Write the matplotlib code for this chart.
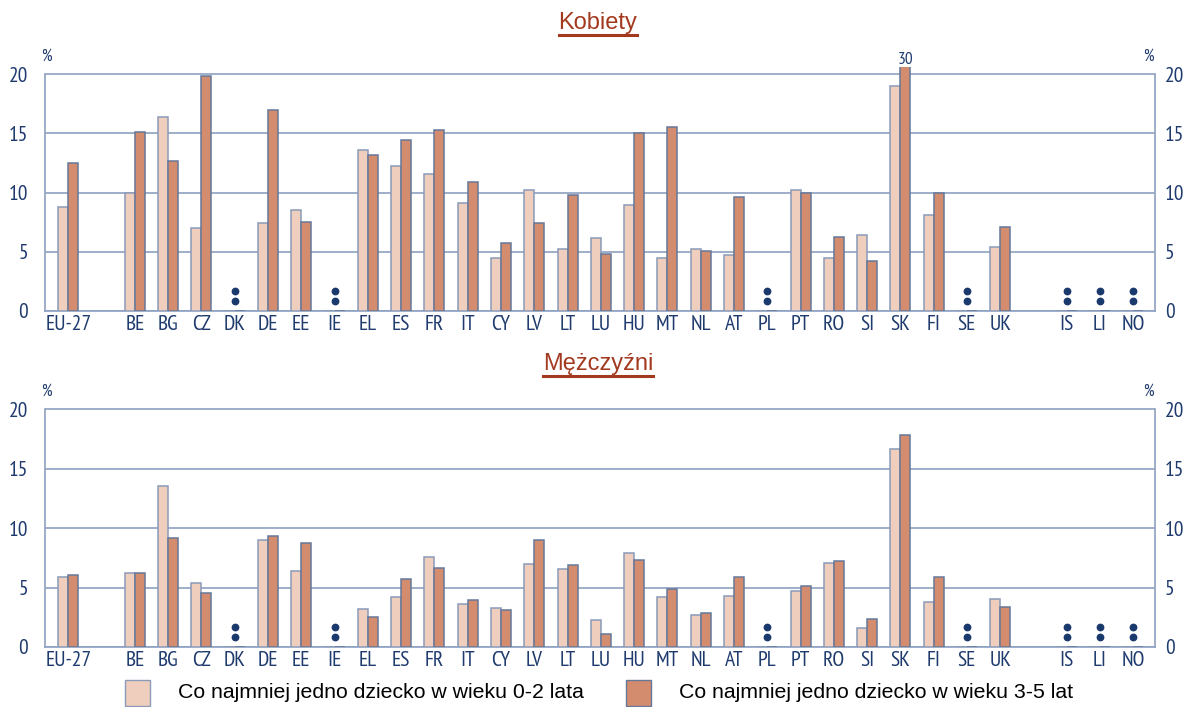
import numpy as np
import matplotlib
matplotlib.use("Agg")
import matplotlib.pyplot as plt
from matplotlib import font_manager
from matplotlib.patches import Rectangle
from matplotlib.lines import Line2D

# ---- data -------------------------------------------------------------
countries = ["EU-27", "BE", "BG", "CZ", "DK", "DE", "EE", "IE", "EL", "ES",
             "FR", "IT", "CY", "LV", "LT", "LU", "HU", "MT", "NL", "AT",
             "PL", "PT", "RO", "SI", "SK", "FI", "SE", "UK", "IS", "LI", "NO"]
# slot index of each country on the axis (gaps after EU-27 and after UK)
slots = [0] + list(range(2, 29)) + [30, 31, 32]

nan = np.nan
women_0_2 = [8.75, 10.0, 16.4, 7.0, nan, 7.45, 8.5, nan, 13.6, 12.2,
             11.55, 9.1, 4.5, 10.25, 5.2, 6.15, 8.95, 4.5, 5.2, 4.75,
             nan, 10.25, 4.5, 6.45, 19.0, 8.1, nan, 5.4, nan, nan, nan]
women_3_5 = [12.5, 15.1, 12.7, 19.8, nan, 17.0, 7.55, nan, 13.2, 14.4,
             15.3, 10.9, 5.7, 7.45, 9.8, 4.85, 15.0, 15.5, 5.1, 9.6,
             nan, 10.0, 6.25, 4.2, 30.0, 10.0, nan, 7.1, nan, nan, nan]
men_0_2 = [5.92, 6.26, 13.5, 5.39, nan, 8.95, 6.37, nan, 3.2, 4.16,
           7.55, 3.65, 3.31, 6.98, 6.54, 2.25, 7.86, 4.18, 2.67, 4.29,
           nan, 4.71, 7.1, 1.6, 16.6, 3.76, nan, 4.07, nan, nan, nan]
men_3_5 = [6.03, 6.26, 9.17, 4.52, nan, 9.37, 8.73, nan, 2.56, 5.7,
           6.65, 3.96, 3.09, 8.95, 6.87, 1.12, 7.3, 4.85, 2.89, 5.92,
           nan, 5.16, 7.2, 2.36, 17.8, 5.89, nan, 3.34, nan, nan, nan]

y_ticks = [0, 5, 10, 15, 20]
legend_labels = ["Co najmniej jedno dziecko w wieku 0-2 lata",
                 "Co najmniej jedno dziecko w wieku 3-5 lat"]
panel_titles = ["Kobiety", "Mężczyźni"]

# ---- fonts ------------------------------------------------------------
available = {f.name for f in font_manager.fontManager.ttflist}


def pick(*names):
    for n in names:
        if n in available:
            return n
    return "DejaVu Sans"


narrow = pick("PT Sans Narrow", "Archivo Narrow", "Roboto Condensed",
              "Open Sans Condensed", "Liberation Sans Narrow")
sans = pick("Liberation Sans", "Arimo", "DejaVu Sans")

# ---- styling ----------------------------------------------------------
C_LIGHT = "#f0cebd"
C_DARK = "#d48c6f"
C_EDGE_L = "#8a9ab8"
C_EDGE_D = "#66789a"
C_GRID = "#8da1c1"
C_TEXT = "#1f3b6e"
C_TITLE = "#a3391f"

W, H = 1183, 707
fig = plt.figure(figsize=(W / 100, H / 100), dpi=100)

YMAX = 20.6
BW = 0.3
XLIM = (-0.7, 32.65)
TICK_FS = 15.5


def px_box(left, right, top_px, bottom_px):
    return [left / W, 1 - bottom_px / H, (right - left) / W, (bottom_px - top_px) / H]


def draw_panel(ax, light, dark):
    x = np.array(slots, dtype=float)
    light = np.array(light, dtype=float)
    dark = np.array(dark, dtype=float)
    ax.bar(x - BW / 2, np.nan_to_num(light), width=BW, color=C_LIGHT,
           edgecolor=C_EDGE_L, linewidth=1.1, zorder=3)
    ax.bar(x + BW / 2, np.nan_to_num(dark), width=BW, color=C_DARK,
           edgecolor=C_EDGE_D, linewidth=1.1, zorder=3)
    # ':' markers for unavailable data
    miss = np.isnan(light) & np.isnan(dark)
    for xv in x[miss]:
        ax.plot([xv, xv], [0.85, 1.72], linestyle="none", marker="o",
                markersize=4.6, color="#1a3a6e", zorder=4)

    ax.set_xlim(*XLIM)
    ax.set_ylim(0, YMAX)
    ax.set_yticks(y_ticks)
    ax.grid(axis="y", color=C_GRID, linewidth=1.2, zorder=0)
    ax.set_axisbelow(True)
    ax.spines["top"].set_visible(False)
    for side in ("left", "right", "bottom"):
        ax.spines[side].set_color(C_GRID)
        ax.spines[side].set_linewidth(1.2)
    ax.spines["left"].set_bounds(0, 20)
    ax.spines["right"].set_bounds(0, 20)

    ax.set_xticks(x)
    ax.set_xticklabels(countries, fontfamily=narrow, fontsize=TICK_FS,
                       color=C_TEXT)
    ax.tick_params(axis="x", length=0, pad=3)
    ax.tick_params(axis="y", length=0, pad=12, labelsize=TICK_FS,
                   labelcolor=C_TEXT)
    for lab in ax.get_yticklabels():
        lab.set_fontfamily(narrow)

    # right-hand value scale
    axr = ax.twinx()
    axr.set_ylim(0, YMAX)
    axr.set_yticks(y_ticks)
    axr.tick_params(axis="y", length=0, pad=7, labelsize=TICK_FS,
                    labelcolor=C_TEXT)
    for lab in axr.get_yticklabels():
        lab.set_fontfamily(narrow)
    for s in axr.spines.values():
        s.set_visible(False)
    return axr


ax1 = fig.add_axes(px_box(45, 1155, 74 - 0.6 * 11.85, 311))
ax2 = fig.add_axes(px_box(45, 1155, 409 - 0.6 * 11.885, 647))
draw_panel(ax1, women_0_2, women_3_5)
draw_panel(ax2, men_0_2, men_3_5)

# value of the clipped SK bar
sk = countries.index("SK")
ax1.annotate(f"{women_3_5[sk]:.0f}", xy=(slots[sk] + BW / 2, YMAX),
             xytext=(0, -1), textcoords="offset points", ha="center",
             va="bottom", fontsize=12.5, color=C_TEXT, family=narrow,
             annotation_clip=False)

# '%' unit markers
for ypx in (57, 392):
    for xpx in (46, 1148):
        fig.text(xpx / W, 1 - ypx / H, "%", ha="center", va="center",
                 fontsize=12, color=C_TEXT, family=narrow)

# underlined panel titles
fig.canvas.draw()
renderer = fig.canvas.get_renderer()
for title, ypx in zip(panel_titles, (23, 364)):
    t = fig.text(598 / W, 1 - ypx / H, title, ha="center", va="center",
                 fontsize=17, color=C_TITLE, family=sans)
    bb = t.get_window_extent(renderer=renderer)
    y_line = (bb.y0 - 1) / H
    fig.add_artist(Line2D([bb.x0 / W, bb.x1 / W], [y_line, y_line],
                          color=C_TITLE, linewidth=2.2,
                          transform=fig.transFigure))

# legend
for x0, label, col, edge in ((125, legend_labels[0], C_LIGHT, C_EDGE_L),
                             (626, legend_labels[1], C_DARK, C_EDGE_D)):
    fig.add_artist(Rectangle((x0 / W, 1 - 706 / H), 25 / W, 26 / H,
                             transform=fig.transFigure, facecolor=col,
                             edgecolor=edge, linewidth=1.0))
    fig.text((x0 + 53) / W, 1 - 693 / H, label, ha="left", va="center",
             fontsize=15.3, color="black", family=sans)

fig.savefig("out.png", dpi=100)
